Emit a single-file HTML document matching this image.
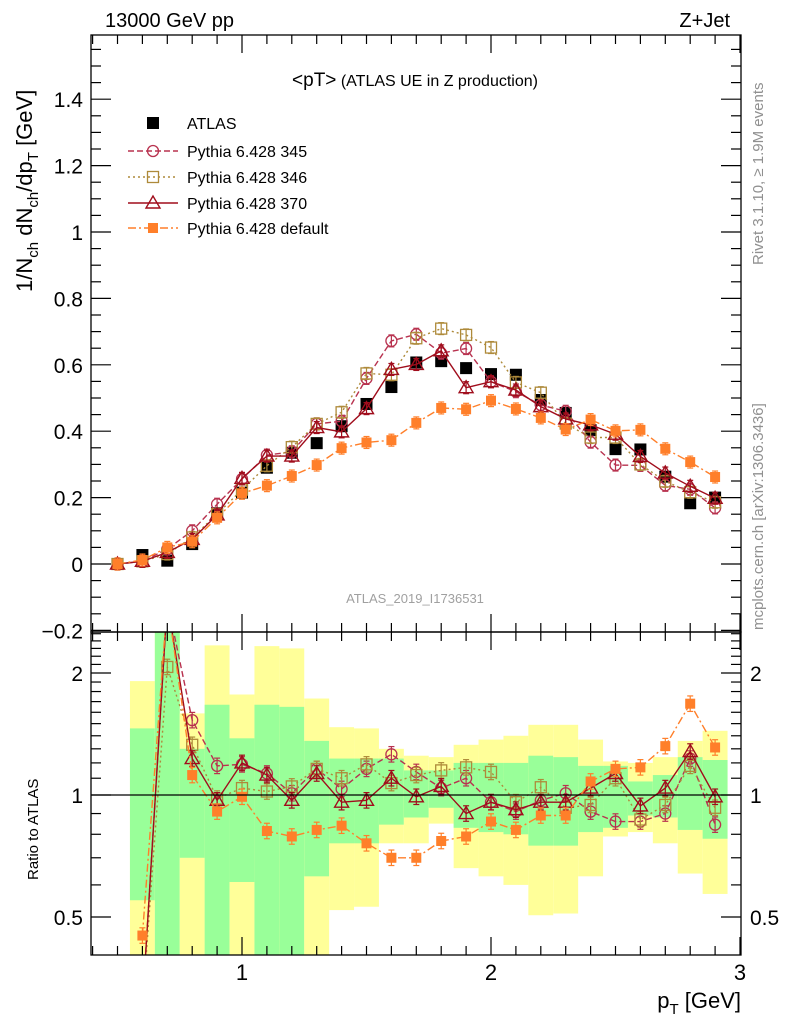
<!DOCTYPE html>
<html><head><meta charset="utf-8"><style>
html,body{margin:0;padding:0;background:#fff;}
svg{display:block;font-family:"Liberation Sans",sans-serif;}
</style></head><body>
<svg id="chart" width="786" height="1024" viewBox="0 0 786 1024" xmlns="http://www.w3.org/2000/svg">
<defs>
<clipPath id="clipMain"><rect x="91" y="35" width="650" height="597"/></clipPath>
<clipPath id="clipRatio"><rect x="91" y="632" width="650" height="323"/></clipPath>
</defs>
<g id="bands" clip-path="url(#clipRatio)"></g>
<g id="marks"></g>
<g id="axes"></g>
<text x="105" y="27" font-size="20">13000 GeV pp</text>
<text x="730" y="27" font-size="20" text-anchor="end">Z+Jet</text>
<text x="415" y="86" text-anchor="middle"><tspan font-size="19">&lt;pT&gt;</tspan><tspan font-size="16"> (ATLAS UE in Z production)</tspan></text>
<text x="415" y="603" text-anchor="middle" font-size="13" fill="#a0a0a0">ATLAS_2019_I1736531</text>
<text transform="translate(763,265) rotate(-90)" font-size="15" fill="#909090">Rivet 3.1.10, ≥ 1.9M events</text>
<text transform="translate(763,630) rotate(-90)" font-size="15" fill="#909090">mcplots.cern.ch [arXiv:1306.3436]</text>
<text transform="translate(32,292) rotate(-90)" font-size="22">1/N<tspan font-size="15" dy="6">ch</tspan><tspan dy="-6"> dN</tspan><tspan font-size="15" dy="6">ch</tspan><tspan dy="-6">/dp</tspan><tspan font-size="15" dy="6">T</tspan><tspan dy="-6"> [GeV]</tspan></text>
<text transform="translate(38,880) rotate(-90)" font-size="15">Ratio to ATLAS</text>
<text x="741" y="1008" font-size="22" text-anchor="end">p<tspan font-size="15" dy="6">T</tspan><tspan dy="-6"> [GeV]</tspan></text>
<g id="legend"></g>
</svg>
<script>
const categories=[0.5,0.6,0.7,0.8,0.9,1.0,1.1,1.2,1.3,1.4,1.5,1.6,1.7,1.8,1.9,2.0,2.1,2.2,2.3,2.4,2.5,2.6,2.7,2.8,2.9];
const atlasValues=[0.0,0.027,0.01,0.06,0.153,0.215,0.29,0.335,0.364,0.415,0.482,0.533,0.607,0.611,0.59,0.572,0.57,0.494,0.455,0.403,0.346,0.345,0.263,0.183,0.2];
const py345Values=[0.0,0.008,0.045,0.10,0.18,0.256,0.328,0.338,0.422,0.43,0.559,0.672,0.692,0.635,0.649,0.549,0.519,0.479,0.46,0.367,0.298,0.297,0.237,0.225,0.169];
const py346Values=[0.0,0.008,0.03,0.08,0.15,0.224,0.296,0.352,0.422,0.457,0.574,0.57,0.68,0.709,0.69,0.652,0.547,0.516,0.423,0.381,0.381,0.30,0.249,0.216,0.186];
const py370Values=[0.0,0.008,0.035,0.074,0.148,0.258,0.325,0.325,0.411,0.398,0.468,0.586,0.601,0.642,0.531,0.549,0.524,0.474,0.437,0.419,0.391,0.324,0.274,0.234,0.198];
const pyDefaultValues=[0.0,0.012,0.05,0.067,0.139,0.213,0.236,0.265,0.298,0.349,0.366,0.373,0.425,0.47,0.466,0.492,0.467,0.44,0.405,0.435,0.401,0.404,0.347,0.307,0.262];
const ratio345=[null,0.3,3,1.53,1.18,1.19,1.13,1.01,1.16,1.035,1.16,1.26,1.14,1.04,1.10,0.96,0.91,0.97,1.01,0.91,0.86,0.86,0.90,1.23,0.845];
const ratio346=[null,0.3,2.07,1.33,0.98,1.04,1.02,1.05,1.16,1.10,1.19,1.07,1.12,1.15,1.17,1.14,0.96,1.045,0.93,0.945,1.1,0.87,0.945,1.18,0.93];
const ratio370=[null,0.3,3,1.23,0.97,1.2,1.12,0.97,1.13,0.96,0.97,1.10,0.99,1.05,0.90,0.96,0.92,0.96,0.96,1.04,1.13,0.94,1.04,1.28,0.99];
const ratioDefault=[null,0.45,3,1.12,0.91,0.99,0.815,0.79,0.82,0.84,0.76,0.70,0.70,0.77,0.79,0.86,0.82,0.89,0.89,1.08,1.16,1.17,1.32,1.68,1.31];
const yellowUp=[null,1.91,3,1.59,2.34,1.77,2.33,2.30,1.73,1.47,1.46,1.30,1.25,1.24,1.33,1.37,1.40,1.49,1.49,1.37,1.21,1.20,1.24,1.36,1.44];
const greenUp=[null,1.46,3,1.30,1.67,1.38,1.67,1.65,1.36,1.23,1.23,1.23,1.15,1.15,1.20,1.20,1.20,1.25,1.24,1.18,1.18,1.08,1.12,1.24,1.22];
const greenDown=[null,0.55,0.3,0.70,0.3,0.61,0.3,0.3,0.63,0.76,0.76,0.845,0.88,0.93,0.83,0.81,0.80,0.75,0.75,0.81,0.83,0.89,0.88,0.82,0.78];
const yellowDown=[null,0.3,0.3,0.3,0.3,0.3,0.3,0.3,0.3,0.52,0.53,0.76,0.76,0.85,0.66,0.63,0.60,0.505,0.51,0.63,0.79,0.81,0.76,0.64,0.57];
const mainTicks=[-0.2,0,0.2,0.4,0.6,0.8,1,1.2,1.4];
const mainTickLabels=["−0.2","0","0.2","0.4","0.6","0.8","1","1.2","1.4"];
const ratioTicks=[0.5,1,2];
const ratioTickLabels=["0.5","1","2"];
const xTicks=[1,2,3];
const xTickLabels=["1","2","3"];

const NS="http://www.w3.org/2000/svg";
const X0=91,X1=741,MT=35,MB=632,RB=955;
const xs=v=>242+(v-1)*249;
const ym=v=>564-v*332;
const yr=v=>795-Math.log2(v)*122;
function mk(tag,attrs,parent){const e=document.createElementNS(NS,tag);for(const k in attrs)e.setAttribute(k,attrs[k]);parent.appendChild(e);return e;}
const bands=document.getElementById('bands');
const marks=document.getElementById('marks');
const axes=document.getElementById('axes');
const legend=document.getElementById('legend');

categories.forEach((c,i)=>{
  if(yellowUp[i]==null)return;
  const xa=xs(c-0.05),xb=xs(c+0.05);
  const y1=mk('rect',{x:xa,y:yr(yellowUp[i]),width:xb-xa,height:yr(yellowDown[i])-yr(yellowUp[i]),fill:'#ffff99'},bands);
  
  
  const g1=mk('rect',{x:xa,y:yr(greenUp[i]),width:xb-xa,height:yr(greenDown[i])-yr(greenUp[i]),fill:'#99ff99'},bands);
  
  
});
const ref=mk('line',{x1:X0,x2:X1,y1:yr(1),y2:yr(1),stroke:'#000','stroke-width':1.3},axes);



const series=[
 {name:'pythia-345',main:py345Values,ratio:ratio345,color:'#b8324f',dash:'6,3',marker:'circle',label:'Pythia 6.428 345'},
 {name:'pythia-346',main:py346Values,ratio:ratio346,color:'#ae8a3a',dash:'2,3',marker:'osquare',label:'Pythia 6.428 346'},
 {name:'pythia-370',main:py370Values,ratio:ratio370,color:'#a00d1c',dash:'',marker:'triangle',label:'Pythia 6.428 370'},
 {name:'pythia-default',main:pyDefaultValues,ratio:ratioDefault,color:'#ff7f2a',dash:'8,3,2,3',marker:'fsquare',label:'Pythia 6.428 default'}
];
function marker(g,type,x,y,color){
  let e;
  if(type==='circle')e=mk('circle',{cx:x,cy:y,r:5.5,fill:'none',stroke:color,'stroke-width':1.3},g);
  else if(type==='osquare')e=mk('rect',{x:x-5.5,y:y-5.5,width:11,height:11,fill:'none',stroke:color,'stroke-width':1.3},g);
  else if(type==='triangle')e=mk('polygon',{points:`${x},${y-7} ${x-7},${y+5} ${x+7},${y+5}`,fill:'none',stroke:color,'stroke-width':1.4},g);
  else if(type==='fsquare')e=mk('rect',{x:x-5,y:y-5,width:10,height:10,fill:color},g);
  else e=mk('rect',{x:x-6,y:y-6,width:12,height:12,fill:'#000'},g);
  return e;
}
function errbar(g,x,ya,yb,color){
  mk('line',{x1:x,x2:x,y1:ya,y2:yb,stroke:color,'stroke-width':1.2},g);
  mk('line',{x1:x-3,x2:x+3,y1:ya,y2:ya,stroke:color,'stroke-width':1.2},g);
  mk('line',{x1:x-3,x2:x+3,y1:yb,y2:yb,stroke:color,'stroke-width':1.2},g);
}
const ga=mk('g',{'clip-path':'url(#clipMain)'},marks);


series.forEach(s=>{
  const gm=mk('g',{'clip-path':'url(#clipMain)'},marks);
  
  
  const pts=categories.map((c,i)=>xs(c)+','+ym(s.main[i])).join(' ');
  mk('polyline',{points:pts,fill:'none',stroke:s.color,'stroke-width':1.4,'stroke-dasharray':s.dash},gm);
  categories.forEach((c,i)=>{
    const v=s.main[i];
    errbar(gm,xs(c),ym(v+0.018),ym(v-0.018),s.color);
    const m=marker(gm,s.marker,xs(c),ym(v),s.color);
    
    
  });
  const gr=mk('g',{'clip-path':'url(#clipRatio)'},marks);
  
  
  const rp=[];
  categories.forEach((c,i)=>{if(s.ratio[i]!=null)rp.push(xs(c)+','+yr(s.ratio[i]));});
  mk('polyline',{points:rp.join(' '),fill:'none',stroke:s.color,'stroke-width':1.4,'stroke-dasharray':s.dash},gr);
  categories.forEach((c,i)=>{
    const r=s.ratio[i];if(r==null)return;
    errbar(gr,xs(c),yr(r*1.045),yr(r/1.045),s.color);
    const m=marker(gr,s.marker,xs(c),yr(r),s.color);
    
    
  });
});
categories.forEach((c,i)=>{
  const m=marker(ga,'data',xs(c),ym(atlasValues[i]),'#000');
  
  
});

[[MT,MB],[MB,RB]].forEach(([t,b],k)=>{
  const f=mk('rect',{x:X0,y:t,width:X1-X0,height:b-t,fill:'none',stroke:'#000','stroke-width':1.3},axes);
  
  
  for(let v=0.4;v<=3.001;v+=0.1){
    const x=xs(v);if(x<X0)continue;
    const major=Math.abs(v-Math.round(v))<1e-6;
    const L=major?18:9;
    mk('line',{x1:x,x2:x,y1:b,y2:b-L,stroke:'#000','stroke-width':1.2},axes);
    mk('line',{x1:x,x2:x,y1:t,y2:t+L,stroke:'#000','stroke-width':1.2},axes);
  }
});
for(let v=-0.2;v<=1.59;v+=0.05){
  const y=ym(v);if(y<MT||y>MB)continue;
  const major=Math.abs(v/0.2-Math.round(v/0.2))<1e-6;
  const L=major?20:10;
  mk('line',{x1:X0,x2:X0+L,y1:y,y2:y,stroke:'#000','stroke-width':1.2},axes);
  mk('line',{x1:X1,x2:X1-L,y1:y,y2:y,stroke:'#000','stroke-width':1.2},axes);
}
mainTicks.forEach((v,i)=>{
  const t=mk('text',{x:83,y:ym(v)+8,'text-anchor':'end','font-size':21},axes);
  t.textContent=mainTickLabels[i];
  
  
});
[0.4,0.5,0.6,0.7,0.8,0.9,1,1.1,1.2,1.3,1.4,1.5,1.6,1.7,1.8,1.9,2,2.1,2.2,2.3,2.4,2.5].forEach(v=>{
  const y=yr(v);if(y<MB||y>RB)return;
  const major=ratioTicks.includes(v);
  const L=major?20:10;
  mk('line',{x1:X0,x2:X0+L,y1:y,y2:y,stroke:'#000','stroke-width':1.2},axes);
  mk('line',{x1:X1,x2:X1-L,y1:y,y2:y,stroke:'#000','stroke-width':1.2},axes);
});
ratioTicks.forEach((v,i)=>{
  const t=mk('text',{x:83,y:yr(v)+8,'text-anchor':'end','font-size':21},axes);
  t.textContent=ratioTickLabels[i];
  
  
  const t2=mk('text',{x:750,y:yr(v)+8,'font-size':21},axes);
  t2.textContent=ratioTickLabels[i];
  
  
});
xTicks.forEach((v,i)=>{
  const t=mk('text',{x:xs(v),y:980,'text-anchor':'middle','font-size':22},axes);
  t.textContent=xTickLabels[i];
  
  
});
const ly=[123,151,177,203,228];
const le0=mk('g',{},legend);


marker(le0,'data',153,ly[0],'#000');
mk('text',{x:187,y:ly[0]+6,'font-size':16},le0).textContent='ATLAS';
series.forEach((s,i)=>{
  const g=mk('g',{},legend);
  
  
  const y=ly[i+1];
  mk('line',{x1:128,x2:178,y1:y,y2:y,stroke:s.color,'stroke-width':1.4,'stroke-dasharray':s.dash},g);
  marker(g,s.marker,153,y,s.color);
  mk('text',{x:187,y:y+6,'font-size':16},g).textContent=s.label;
});
</script>
</body></html>
